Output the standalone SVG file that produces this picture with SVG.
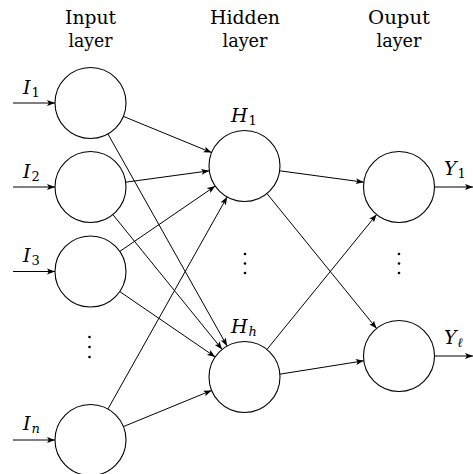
<svg xmlns="http://www.w3.org/2000/svg" width="473" height="474" viewBox="0 0 473 474">
<defs>
<style>
.node{fill:#fff;stroke:#000;stroke-width:1.1}
.edge{fill:none;stroke:#000;stroke-width:1;marker-end:url(#arr)}
.title{font-size:19px;fill:#000;text-anchor:middle}
.math{font-style:italic;font-size:19px;fill:#000}
.sub{font-size:13px;font-style:normal}
.subi{font-size:13px;font-style:italic}
.dot{fill:#000}
</style>
<marker id="arr" markerUnits="userSpaceOnUse" markerWidth="8" markerHeight="7" viewBox="0 0 8 6" refX="8" refY="3" orient="auto">
<path d="M0,0 L8,3 L0,6 L1.8,3 Z" fill="#000"/>
</marker>
</defs>
<rect width="473" height="474" fill="#fff"/>

<g id="titles" font-family="'DejaVu Serif', 'Liberation Serif', serif">
<text class="title" x="90.5" y="24" textLength="51" lengthAdjust="spacingAndGlyphs">Input</text>
<text class="title" x="90.5" y="47" textLength="44" lengthAdjust="spacingAndGlyphs">layer</text>
<text class="title" x="245" y="24" textLength="70" lengthAdjust="spacingAndGlyphs">Hidden</text>
<text class="title" x="245" y="47" textLength="45" lengthAdjust="spacingAndGlyphs">layer</text>
<text class="title" x="399" y="24" textLength="62" lengthAdjust="spacingAndGlyphs">Ouput</text>
<text class="title" x="399" y="47" textLength="45" lengthAdjust="spacingAndGlyphs">layer</text>
</g>

<g id="connectors">
<line class="edge" x1="13" y1="103" x2="55" y2="103"/>
<line class="edge" x1="13" y1="187" x2="55" y2="187"/>
<line class="edge" x1="13" y1="271.5" x2="55" y2="271.5"/>
<line class="edge" x1="13" y1="440" x2="55" y2="440"/>
<line class="edge" x1="123.4" y1="116.4" x2="211.6" y2="152.6"/>
<line class="edge" x1="107.9" y1="133.9" x2="227.1" y2="346.0"/>
<line class="edge" x1="125.7" y1="182.2" x2="209.3" y2="170.8"/>
<line class="edge" x1="112.85" y1="214.6" x2="222.15" y2="349.4"/>
<line class="edge" x1="119.8" y1="251.4" x2="215.2" y2="186.1"/>
<line class="edge" x1="119.8" y1="291.6" x2="215.2" y2="356.9"/>
<line class="edge" x1="107.9" y1="409.05" x2="227.1" y2="196.95"/>
<line class="edge" x1="123.4" y1="426.6" x2="211.6" y2="390.4"/>
<line class="edge" x1="279.7" y1="170.8" x2="363.8" y2="182.2"/>
<line class="edge" x1="266.9" y1="193.5" x2="376.6" y2="328.5"/>
<line class="edge" x1="266.9" y1="349.5" x2="376.6" y2="214.5"/>
<line class="edge" x1="279.7" y1="374.2" x2="363.8" y2="360.8"/>
<line class="edge" x1="434.5" y1="187" x2="473" y2="187"/>
<line class="edge" x1="434.5" y1="356" x2="473" y2="356"/>
</g>

<g font-family="'DejaVu Serif', 'Liberation Serif', serif">
<g id="I1"><circle class="node" cx="90.5" cy="103" r="35.5"/><text class="math" x="23" y="94">I<tspan class="sub" dx="1" dy="3">1</tspan></text></g>
<g id="I2"><circle class="node" cx="90.5" cy="187" r="35.5"/><text class="math" x="23" y="178">I<tspan class="sub" dx="1" dy="3">2</tspan></text></g>
<g id="I3"><circle class="node" cx="90.5" cy="271.5" r="35.5"/><text class="math" x="23" y="262">I<tspan class="sub" dx="1" dy="3">3</tspan></text></g>
<g id="In"><circle class="node" cx="90.5" cy="440" r="35.5"/><text class="math" x="23" y="430">I<tspan class="subi" dx="1" dy="3">n</tspan></text></g>
<g id="input-dots"><circle class="dot" cx="89.5" cy="337" r="1.3"/><circle class="dot" cx="89.5" cy="347" r="1.3"/><circle class="dot" cx="89.5" cy="357" r="1.3"/></g>

<g id="H1"><circle class="node" cx="244.5" cy="166" r="35.5"/><text class="math" x="231" y="122">H<tspan class="sub" dx="1" dy="3">1</tspan></text></g>
<g id="Hh"><circle class="node" cx="244.5" cy="377" r="35.5"/><text class="math" x="231" y="333">H<tspan class="subi" dx="1" dy="3">h</tspan></text></g>
<g id="hidden-dots"><circle class="dot" cx="245" cy="254" r="1.3"/><circle class="dot" cx="245" cy="263.5" r="1.3"/><circle class="dot" cx="245" cy="273" r="1.3"/></g>

<g id="Y1"><circle class="node" cx="399" cy="187" r="35.5"/><text class="math" x="444" y="175">Y<tspan class="sub" dx="1" dy="3">1</tspan></text></g>
<g id="Yl"><circle class="node" cx="399" cy="356" r="35.5"/><text class="math" x="444" y="344">Y<tspan class="subi" dx="1" dy="3">ℓ</tspan></text></g>
<g id="output-dots"><circle class="dot" cx="399" cy="254" r="1.3"/><circle class="dot" cx="399" cy="263.5" r="1.3"/><circle class="dot" cx="399" cy="273" r="1.3"/></g>
</g>
</svg>
